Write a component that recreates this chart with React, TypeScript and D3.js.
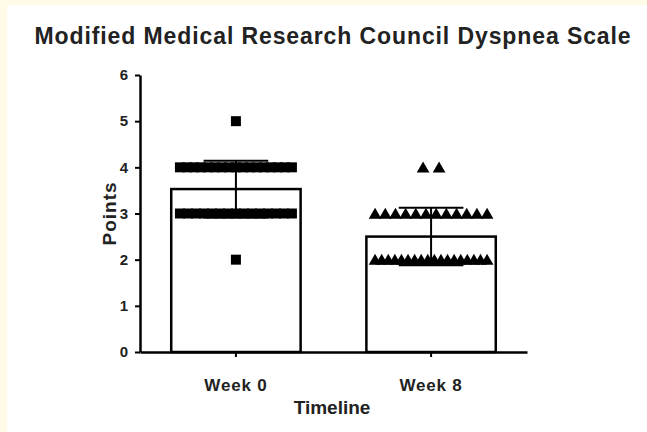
import { useEffect, useRef } from "react";
import * as d3 from "d3";

// scores per group: [score, number of patients]
const categories = ["Week 0", "Week 8"];
const week0Counts: [number, number][] = [
  [5, 1],
  [4, 17],
  [3, 15],
  [2, 1],
];
const week8Counts: [number, number][] = [
  [4, 2],
  [3, 12],
  [2, 18],
];
const yTicks = [0, 1, 2, 3, 4, 5, 6];

const W = 647;
const H = 432;
const FONT = "'Liberation Sans', Arial, sans-serif";
const TEXT = "#222";

export default function App() {
  const svgRef = useRef<SVGSVGElement>(null);

  useEffect(() => {
    if (!svgRef.current) return;
    const svg = d3.select(svgRef.current);
    svg.selectAll("*").remove();

    // backdrop: cream page with white panel
    svg.append("rect").attr("width", W).attr("height", H).attr("fill", "#fffbe6");
    svg.append("rect").attr("x", 7).attr("y", 5).attr("width", W - 7).attr("height", H - 5).attr("fill", "#fff");

    const x = d3.scaleBand<string>()
      .domain(categories)
      .range([140, 527])
      .paddingInner(0.337)
      .paddingOuter(0.16);

    const y = d3.scaleLinear().domain([0, 6]).range([352, 75]);

    const groups = [week0Counts, week8Counts].map((counts, gi) => {
      const values: number[] = [];
      counts.forEach(([v, n]) => { for (let i = 0; i < n; i++) values.push(v); });
      return {
        name: categories[gi],
        counts,
        mean: d3.mean(values) ?? 0,
        sd: d3.deviation(values) ?? 0,
        shape: gi === 0 ? d3.symbolSquare : d3.symbolTriangle,
      };
    });

    const g = svg.append("g");

    // bars
    g.selectAll("rect.bar")
      .data(groups)
      .join("rect")
      .attr("class", "bar")
      .attr("x", (d) => x(d.name) ?? 0)
      .attr("width", x.bandwidth())
      .attr("y", (d) => y(d.mean))
      .attr("height", (d) => y(0) - y(d.mean))
      .attr("fill", "#fff")
      .attr("stroke", "#000")
      .attr("stroke-width", 2.5);

    // error bars (mean ± SD)
    const capHalf = x.bandwidth() / 4;
    groups.forEach((d) => {
      const cx = (x(d.name) ?? 0) + x.bandwidth() / 2;
      const eg = g.append("g").attr("stroke", "#000").attr("stroke-width", 2);
      eg.append("line").attr("x1", cx).attr("x2", cx).attr("y1", y(d.mean + d.sd)).attr("y2", y(d.mean - d.sd));
      [d.mean + d.sd, d.mean - d.sd].forEach((v) => {
        eg.append("line").attr("x1", cx - capHalf).attr("x2", cx + capHalf).attr("y1", y(v)).attr("y2", y(v));
      });
    });

    // scatter points, spread horizontally per score row
    groups.forEach((d, gi) => {
      const cx = (x(d.name) ?? 0) + x.bandwidth() / 2;
      const sym = d3.symbol().type(d.shape).size(gi === 0 ? 100 : 70);
      d.counts.forEach(([v, n]) => {
        const step = n > 1 ? Math.min(16, 112 / (n - 1)) : 0;
        for (let i = 0; i < n; i++) {
          const px = cx + (i - (n - 1) / 2) * step;
          const py = y(v) + (gi === 1 ? 1.5 : 0);
          g.append("path")
            .attr("d", sym() ?? "")
            .attr("transform", `translate(${px},${py})`)
            .attr("fill", "#000");
        }
      });
    });

    // y axis
    const yAxis = svg.append("g")
      .attr("transform", "translate(140,0)")
      .call(d3.axisLeft(y).tickValues(yTicks).tickFormat(d3.format("d")).tickSize(5).tickSizeOuter(0).tickPadding(7));
    yAxis.select(".domain").attr("stroke", "#000").attr("stroke-width", 2.5);
    yAxis.selectAll(".tick line").attr("stroke", "#000").attr("stroke-width", 2);
    yAxis.selectAll("text")
      .attr("font-family", FONT)
      .attr("font-size", 15)
      .attr("font-weight", "bold")
      .attr("fill", TEXT);

    // x axis
    const xAxis = svg.append("g")
      .attr("transform", "translate(0,352)")
      .call(d3.axisBottom(x).tickSize(5).tickSizeOuter(0).tickPadding(22));
    xAxis.select(".domain").attr("stroke", "#000").attr("stroke-width", 2.5);
    xAxis.selectAll(".tick line").attr("stroke", "#000").attr("stroke-width", 2);
    xAxis.selectAll("text")
      .attr("font-family", FONT)
      .attr("font-size", 17)
      .attr("font-weight", "bold")
      .attr("letter-spacing", 0.8)
      .attr("fill", TEXT);

    // titles
    svg.append("text")
      .attr("x", 333)
      .attr("y", 44)
      .attr("text-anchor", "middle")
      .attr("font-family", FONT)
      .attr("font-size", 23)
      .attr("font-weight", "bold")
      .attr("letter-spacing", 0.9)
      .attr("fill", TEXT)
      .text("Modified Medical Research Council Dyspnea Scale");

    svg.append("text")
      .attr("x", 332)
      .attr("y", 414)
      .attr("text-anchor", "middle")
      .attr("font-family", FONT)
      .attr("font-size", 19)
      .attr("font-weight", "bold")
      .attr("fill", TEXT)
      .text("Timeline");

    svg.append("text")
      .attr("transform", `translate(116,${y(3)}) rotate(-90)`)
      .attr("text-anchor", "middle")
      .attr("font-family", FONT)
      .attr("font-size", 19)
      .attr("font-weight", "bold")
      .attr("letter-spacing", 1)
      .attr("fill", TEXT)
      .text("Points");
  }, []);

  return (
    <div style={{ position: "fixed", left: 0, top: 0, width: W, height: H }}>
      <svg ref={svgRef} width={W} height={H} style={{ display: "block" }} />
    </div>
  );
}
